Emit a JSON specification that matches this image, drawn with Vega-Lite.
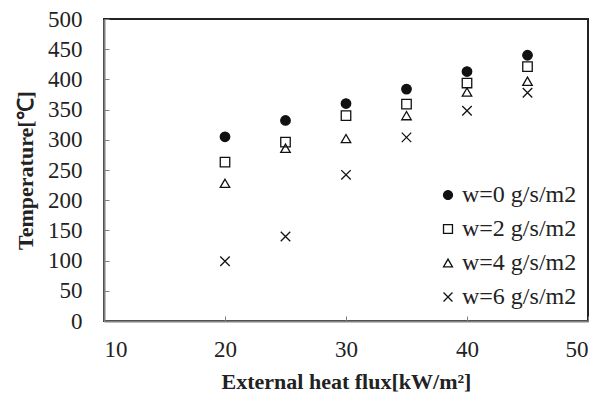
{
  "$schema": "https://vega.github.io/schema/vega-lite/v6.json",
  "width": 484,
  "height": 302,
  "autosize": "none",
  "padding": {"left": 104, "top": 19, "right": 21, "bottom": 75},
  "background": "white",
  "config": {
    "view": {"stroke": "#222222", "strokeWidth": 2},
    "axis": {
      "grid": false,
      "domainColor": "#808080",
      "domainWidth": 2,
      "tickColor": "#808080",
      "tickWidth": 1,
      "tickSize": -5,
      "labelFont": "Liberation Serif",
      "labelFontSize": 23,
      "labelColor": "#222222",
      "titleFont": "Liberation Serif",
      "titleFontSize": 22,
      "titleFontWeight": "bold",
      "titleColor": "#222222"
    }
  },
  "data": {
    "values": [
      {"flux": 20, "temp": 305, "series": "w=0 g/s/m2"},
      {"flux": 25, "temp": 332, "series": "w=0 g/s/m2"},
      {"flux": 30, "temp": 360, "series": "w=0 g/s/m2"},
      {"flux": 35, "temp": 384, "series": "w=0 g/s/m2"},
      {"flux": 40, "temp": 413, "series": "w=0 g/s/m2"},
      {"flux": 45, "temp": 440, "series": "w=0 g/s/m2"},
      {"flux": 20, "temp": 263, "series": "w=2 g/s/m2"},
      {"flux": 25, "temp": 296, "series": "w=2 g/s/m2"},
      {"flux": 30, "temp": 340, "series": "w=2 g/s/m2"},
      {"flux": 35, "temp": 359, "series": "w=2 g/s/m2"},
      {"flux": 40, "temp": 394, "series": "w=2 g/s/m2"},
      {"flux": 45, "temp": 421, "series": "w=2 g/s/m2"},
      {"flux": 20, "temp": 228, "series": "w=4 g/s/m2"},
      {"flux": 25, "temp": 286, "series": "w=4 g/s/m2"},
      {"flux": 30, "temp": 302, "series": "w=4 g/s/m2"},
      {"flux": 35, "temp": 340, "series": "w=4 g/s/m2"},
      {"flux": 40, "temp": 379, "series": "w=4 g/s/m2"},
      {"flux": 45, "temp": 397, "series": "w=4 g/s/m2"},
      {"flux": 20, "temp": 99, "series": "w=6 g/s/m2"},
      {"flux": 25, "temp": 140, "series": "w=6 g/s/m2"},
      {"flux": 30, "temp": 242, "series": "w=6 g/s/m2"},
      {"flux": 35, "temp": 304, "series": "w=6 g/s/m2"},
      {"flux": 40, "temp": 348, "series": "w=6 g/s/m2"},
      {"flux": 45, "temp": 378, "series": "w=6 g/s/m2"}
    ]
  },
  "mark": {"type": "point", "size": 90, "strokeWidth": 1.3, "opacity": 1},
  "encoding": {
    "x": {
      "field": "flux", "type": "quantitative",
      "scale": {"domain": [10, 50], "nice": false},
      "axis": {"values": [10, 20, 30, 40, 50], "title": "External heat flux[kW/m²]", "labelPadding": 22, "titleY": 60, "titleBaseline": "middle"}
    },
    "y": {
      "field": "temp", "type": "quantitative",
      "scale": {"domain": [0, 500], "nice": false},
      "axis": {"values": [0, 50, 100, 150, 200, 250, 300, 350, 400, 450, 500], "title": "Temperature[℃]", "labelPadding": 27, "titleX": -79, "titleBaseline": "middle"}
    },
    "shape": {
      "field": "series", "type": "nominal",
      "scale": {"domain": ["w=0 g/s/m2", "w=2 g/s/m2", "w=4 g/s/m2", "w=6 g/s/m2"], "range": ["circle", "square", "triangle-up", "M-1,-1L1,1M-1,1L1,-1"]},
      "legend": {"title": null, "orient": "none", "legendX": 332, "legendY": 164, "labelFontSize": 24, "labelFont": "Liberation Serif", "labelColor": "#222222", "symbolSize": 80, "symbolStrokeWidth": 1.3, "rowPadding": 10, "labelOffset": 2}
    },
    "fill": {
      "field": "series", "type": "nominal",
      "scale": {"domain": ["w=0 g/s/m2", "w=2 g/s/m2", "w=4 g/s/m2", "w=6 g/s/m2"], "range": ["#111111", "transparent", "transparent", "transparent"]},
      "legend": null
    },
    "stroke": {"value": "#111111"}
  }
}
